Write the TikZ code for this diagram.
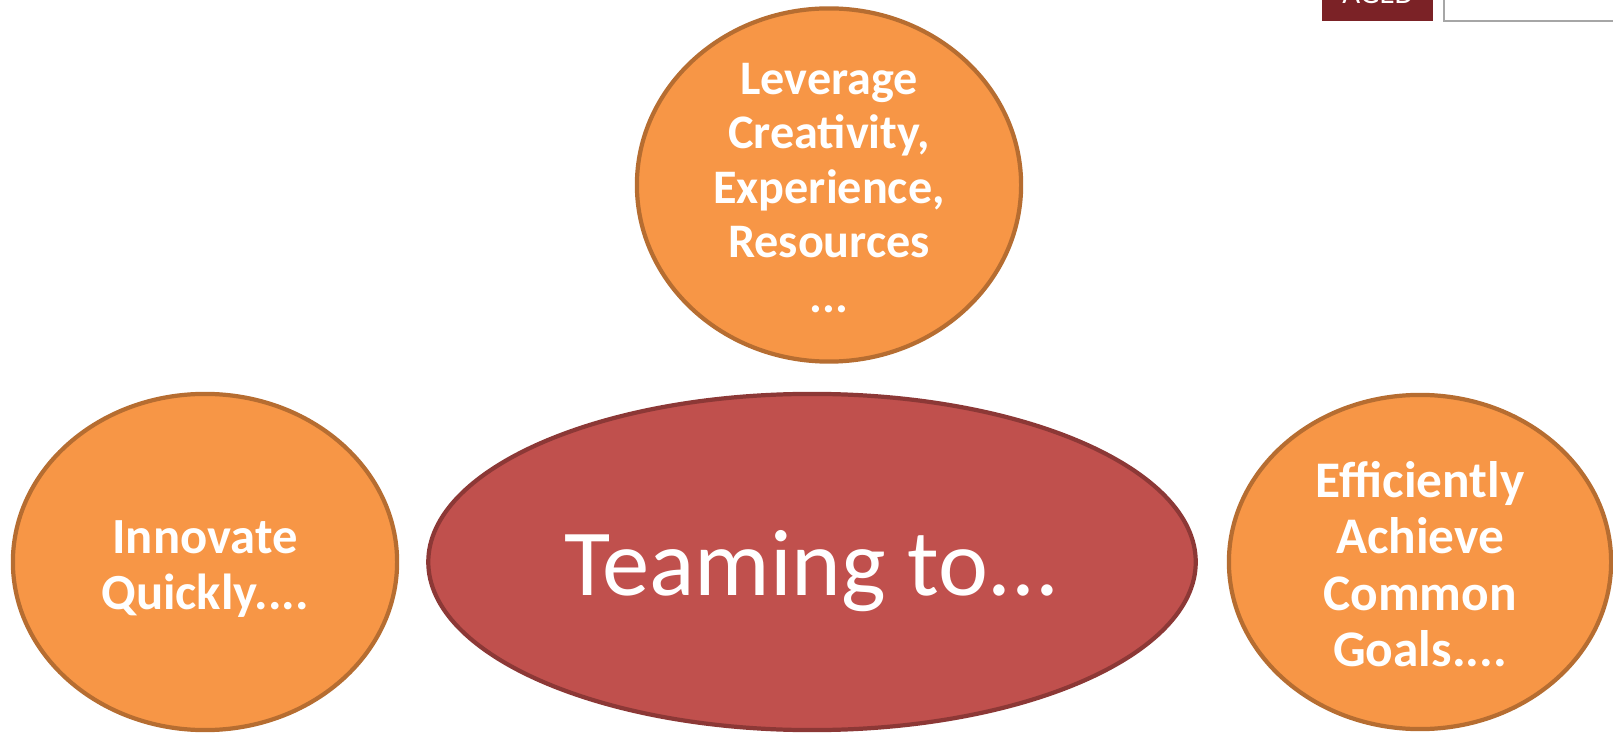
\documentclass[tikz,border=0pt]{standalone}
\usepackage{fontspec}
\setmainfont{Carlito}
\usepackage{tikz}
\usetikzlibrary{shapes.geometric}

\definecolor{orangefill}{HTML}{F79646}
\definecolor{orangeline}{HTML}{B66D31}
\definecolor{redfill}{HTML}{C0504D}
\definecolor{redline}{HTML}{8C3836}
\definecolor{tabred}{HTML}{7B2226}

\tikzset{
  goal/.style={ellipse, fill=orangefill, draw=orangeline, line width=1.2pt, inner sep=0pt},
  core/.style={ellipse, fill=redfill, draw=redline, line width=1.2pt, inner sep=0pt},
  words/.style={align=center, text=white, inner sep=0pt}
}

\begin{document}
\begin{tikzpicture}[x=0.01cm, y=-0.01cm]
          \useasboundingbox (0,0) rectangle (1613,734);
          % tabs at the top right
          \fill[tabred] (1322,-20) rectangle (1433,21);
          \node (tab) [anchor=base, text=white, inner sep=0pt, font=\fontsize{8.8}{10}\selectfont] at (1378,4) {AGED};
          \draw[gray!70, line width=0.5pt] (1444,-20) rectangle (1640,21);
          % leverage
          \node (leverage) [goal, minimum width=3.84cm, minimum height=3.53cm] at (829,185) {};
          \node (levtext) [words, yshift=-0.03cm, font=\bfseries\fontsize{13.7}{15.5}\selectfont] at (leverage)
            {Leverage\\Creativity,\\Experience,\\Resources\\...};
          % innovate
          \node (innovate) [goal, minimum width=3.84cm, minimum height=3.36cm] at (205,562) {};
          \node (innotext) [words, yshift=-0.07cm, font=\bfseries\fontsize{14.4}{16}\selectfont] at (innovate)
            {Innovate\\Quickly....};
          % teaming
          \node (teaming) [core, minimum width=7.67cm, minimum height=3.36cm] at (812,562) {};
          \node (teamtext) [words, yshift=-0.09cm, font=\fontsize{26.9}{30}\selectfont] at (teaming)
            {Teaming to...};
          % achieve
          \node (achieve) [goal, minimum width=3.82cm, minimum height=3.34cm] at (1420,562) {};
          \node (achtext) [words, yshift=-0.02cm, font=\bfseries\fontsize{14.6}{16}\selectfont] at (achieve)
            {Efficiently\\Achieve\\Common\\Goals....};
        \end{tikzpicture}
\end{document}
